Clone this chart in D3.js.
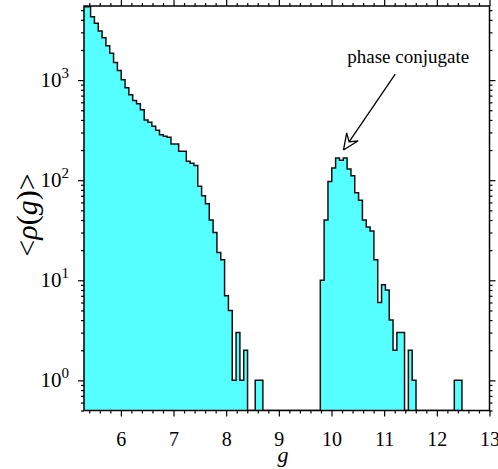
<!DOCTYPE html>
<html>
<head>
<meta charset="utf-8">
<script src="https://cdn.jsdelivr.net/npm/d3@7"></script>
<style>
body{margin:0;background:#fff;}
text{font-family:"Liberation Serif","Times New Roman",serif;fill:#000;}
</style>
</head>
<body>
<div id="chart-area"></div>
<script>
// histogram: uniform bins starting at binStart
var binStart=5.2797;
var binWidth=0.0727;
var counts=[5400,5400,4300,3700,3100,2650,2200,1850,1500,1250,
            1010,840,715,625,580,505,400,380,345,315,
            285,275,268,230,230,195,195,155,148,140,
            87,70,58,40,30,19,16,7,5,1,
            3,1,2,0,0,1,1,0,0,0,
            0,0,0,0,0,0,0,0,0,0,
            0,0,10,40,97,132,167,158,167,129,
            111,75,63,40,34,31,16,6,9,8,
            4,2,3,3,0,2,1,0,0,0,
            0,0,0,0,0,0,0,1,1];
var xTicks=[6,7,8,9,10,11,12,13];
var yTicks=[1,10,100,1000];
var yExponents=["0","1","2","3"];
var noteText="phase conjugate";
var noteAt=[10.30,1490];   // g, rho at text start
var arrowTail=[11.21,1150];
var arrowTip=[10.227,200];

var margin={left:84,right:8.5,top:6,bottom:58.5};
var width=498-margin.left-margin.right;
var height=469-margin.top-margin.bottom;

var svg=d3.select("#chart-area").append("svg")
    .attr("width",498)
    .attr("height",469);
var g=svg.append("g")
    .attr("transform","translate("+margin.left+","+margin.top+")");

var x=d3.scaleLinear().domain([5.3,13]).range([0,width]);
var y=d3.scaleLog().domain([0.5,5500]).range([height,0]);

g.append("clipPath").attr("id","plotclip")
    .append("rect").attr("width",width).attr("height",height);

// step outline of the histogram
var pts=[[x(binStart),height]];
counts.forEach((c,i)=>{
    var x0=x(binStart+i*binWidth), x1=x(binStart+(i+1)*binWidth);
    var yy=c>0?y(c):height;
    pts.push([x0,yy]);
    pts.push([x1,yy]);
});
pts.push([x(binStart+counts.length*binWidth),height]);

g.append("path")
    .attr("clip-path","url(#plotclip)")
    .attr("d",d3.line()(pts))
    .attr("fill","#55ffff")
    .attr("stroke","#111")
    .attr("stroke-width",1.5)
    .attr("stroke-linejoin","miter");

// axes, ticks outward on all four sides
var xMinor=d3.range(5.4,13.001,0.2).filter(v=>Math.abs(v-Math.round(v))>0.01);
var yAll=y.ticks();
var yMinor=yAll.filter(v=>yTicks.indexOf(v)<0);

function styleAxis(sel){
    sel.attr("font-family",null).attr("font-size",null);
    sel.select(".domain").remove();
    sel.selectAll("line").attr("stroke","#000").attr("stroke-width",1.2);
}

g.append("g").attr("transform","translate(0,"+height+")")
    .call(d3.axisBottom(x).tickValues(xMinor).tickSize(3).tickFormat(""))
    .call(styleAxis);
var bx=g.append("g").attr("transform","translate(0,"+height+")")
    .call(d3.axisBottom(x).tickValues(xTicks).tickSize(6).tickFormat(d3.format("d")))
    .call(styleAxis);
bx.selectAll("text")
    .attr("y",21)
    .attr("font-size","20px");

g.append("g")
    .call(d3.axisTop(x).tickValues(xMinor).tickSize(3).tickFormat(""))
    .call(styleAxis);
g.append("g")
    .call(d3.axisTop(x).tickValues(xTicks).tickSize(6).tickFormat(""))
    .call(styleAxis);

g.append("g")
    .call(d3.axisLeft(y).tickValues(yMinor).tickSize(3).tickFormat(""))
    .call(styleAxis);
g.append("g")
    .call(d3.axisLeft(y).tickValues(yTicks).tickSize(6).tickFormat(""))
    .call(styleAxis);

g.append("g").attr("transform","translate("+width+",0)")
    .call(d3.axisRight(y).tickValues(yMinor).tickSize(3).tickFormat(""))
    .call(styleAxis);
g.append("g").attr("transform","translate("+width+",0)")
    .call(d3.axisRight(y).tickValues(yTicks).tickSize(6).tickFormat(""))
    .call(styleAxis);

// y tick labels 10^n
yTicks.forEach((v,i)=>{
    var t=g.append("text")
        .attr("x",-15)
        .attr("y",y(v)+7)
        .attr("text-anchor","end")
        .attr("font-size","21px");
    t.append("tspan").text("10");
    t.append("tspan").attr("dy",-9).attr("font-size","15px").text(yExponents[i]);
});

// frame
g.append("rect")
    .attr("width",width)
    .attr("height",height)
    .attr("fill","none")
    .attr("stroke","#000")
    .attr("stroke-width",1.5);

// axis titles
svg.append("text")
    .attr("x",283)
    .attr("y",462)
    .attr("text-anchor","middle")
    .attr("font-size","22px")
    .attr("font-style","italic")
    .text("g");

var yl=svg.append("text")
    .attr("transform","translate(37,215) rotate(-90)")
    .attr("text-anchor","middle")
    .attr("font-size","30px");
yl.append("tspan").text("<");
yl.append("tspan").attr("font-style","italic").text("ρ");
yl.append("tspan").text("(");
yl.append("tspan").attr("font-style","italic").text("g");
yl.append("tspan").text(")>");

// annotation
g.append("text")
    .attr("x",x(noteAt[0]))
    .attr("y",y(noteAt[1]))
    .attr("font-size","19px")
    .text(noteText);

var tx=x(arrowTail[0]), ty=y(arrowTail[1]);
var px=x(arrowTip[0]), py=y(arrowTip[1]);
var len=Math.hypot(px-tx,py-ty);
var ux=(px-tx)/len, uy=(py-ty)/len;
var nx=-uy, ny=ux;
var L=16, W=7, N=10;
var w1=[px-L*ux+W*nx, py-L*uy+W*ny];
var w2=[px-L*ux-W*nx, py-L*uy-W*ny];
var notch=[px-N*ux, py-N*uy];

g.append("line")
    .attr("x1",tx).attr("y1",ty)
    .attr("x2",notch[0]).attr("y2",notch[1])
    .attr("stroke","#000")
    .attr("stroke-width",1.3);
g.append("path")
    .attr("d",d3.line()([[px,py],w1,notch,w2,[px,py]]))
    .attr("fill","#fff")
    .attr("stroke","#000")
    .attr("stroke-width",1.3)
    .attr("stroke-linejoin","miter");
</script>
</body>
</html>
